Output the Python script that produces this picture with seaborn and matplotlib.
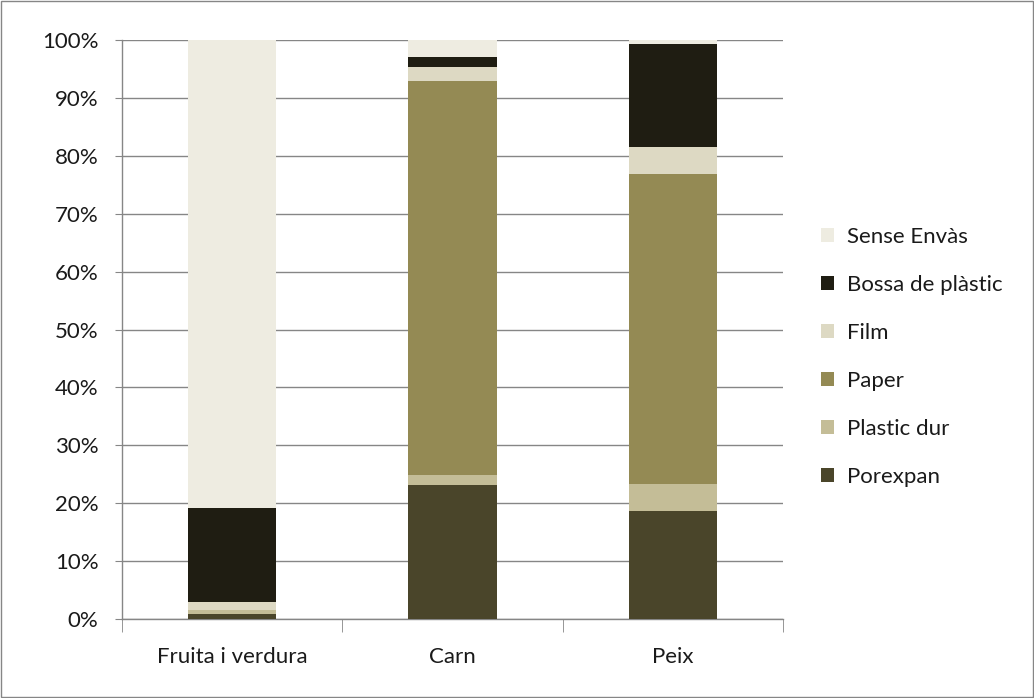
import numpy as np
import pandas as pd
import matplotlib
matplotlib.use("Agg")
import matplotlib.pyplot as plt
import seaborn as sns
from matplotlib.patches import Patch, Rectangle

categories = ["Fruita i verdura", "Carn", "Peix"]
series = ["Porexpan", "Plastic dur", "Paper", "Film", "Bossa de plàstic", "Sense Envàs"]
porexpan = [0.8, 23.2, 18.6]
plastic_dur = [0.7, 1.6, 4.7]
paper = [0.0, 68.2, 53.5]
film = [1.5, 2.4, 4.7]
bossa = [16.2, 1.6, 17.8]
sense = [80.8, 3.0, 0.7]
colors = ["#4A452A", "#C4BD97", "#948A54", "#DDD9C3", "#1F1D12", "#EEECE1"]

values = [porexpan, plastic_dur, paper, film, bossa, sense]
sns.set_style("white")
plt.rcParams['font.family'] = ['Lato', 'DejaVu Sans']
plt.rcParams['text.color'] = '#1a1a1a'

fig = plt.figure(figsize=(10.34, 6.98), dpi=100)
ax = fig.add_axes([122/1034, 1-619/698, (783-122)/1034, (619-40)/698])

cum = np.cumsum(np.array(values), axis=0)
for i in range(len(series) - 1, -1, -1):
    df = pd.DataFrame({"cat": categories, "val": cum[i]})
    sns.barplot(data=df, x="cat", y="val", color=colors[i], width=0.4,
                linewidth=0, ax=ax, zorder=3, saturation=1)

ax.set_ylim(0, 100)
ax.set_xlim(-0.5, 2.5)
ax.set_yticks(np.arange(0, 101, 10))
ax.set_yticklabels([f"{v}%" for v in range(0, 101, 10)], fontsize=16)
ax.set_xlabel("")
ax.set_ylabel("")
ax.tick_params(axis='x', labelsize=16, length=0, pad=20, labelcolor='#1a1a1a')
ax.tick_params(axis='y', length=5, color="#868686", pad=12, direction='out', left=True,
               labelcolor='#1a1a1a')
ax.grid(axis='y', color="#868686", linewidth=1, zorder=0)
ax.set_axisbelow(True)
for s in ["top", "right"]:
    ax.spines[s].set_visible(False)
for s in ["left", "bottom"]:
    ax.spines[s].set_color("#868686")
    ax.spines[s].set_linewidth(1)
ax.set_xticks([0, 1, 2], minor=False)
ax.set_xticks([-0.5, 0.5, 1.5, 2.5], minor=True)
ax.tick_params(axis='x', which='minor', length=9, color="#868686", bottom=True)

handles = [Patch(facecolor=colors[i], edgecolor='none', label=series[i]) for i in range(len(series) - 1, -1, -1)]
fig.legend(handles=handles, loc='center left', bbox_to_anchor=(810/1034, 1-357/698),
           frameon=False, fontsize=16, handlelength=0.6, handleheight=0.6,
           handletextpad=0.55, labelspacing=1.26, borderpad=0)

fig.patches.append(Rectangle((0.001, 0.001), 0.998, 0.998, transform=fig.transFigure,
                             fill=False, edgecolor="#868686", linewidth=1))
fig.savefig("out.png", dpi=100)
